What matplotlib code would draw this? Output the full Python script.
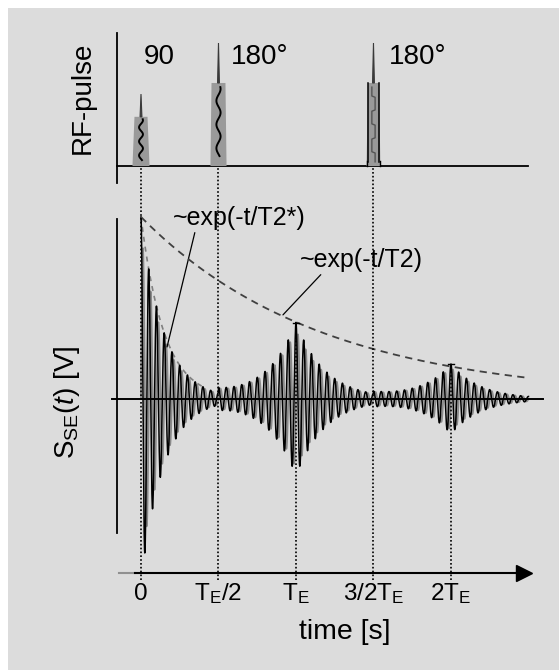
import numpy as np
import matplotlib
matplotlib.use('Agg')
import matplotlib.pyplot as plt
from matplotlib.patches import Rectangle

plt.rcParams['font.family'] = ['Liberation Sans', 'DejaVu Sans']
plt.rcParams['mathtext.fontset'] = 'custom'
plt.rcParams['mathtext.rm'] = 'Liberation Sans'
plt.rcParams['mathtext.it'] = 'Liberation Sans:italic'

# time in units of T_E
pulse_times = [0.0, 0.5, 1.5]
pulse_peaks = [0.585, 1.0, 1.0]
pulse_shoulders = [0.40, 0.675, 0.675]
pulse_labels = ['90', '180°', '180°']

echo_times = [0.0, 1.0, 2.0]
echo_peaks = [1.0, 0.42, 0.19]
echo_tau = [0.148, 0.19, 0.19]     # ~T2*
echo_start = [0.0, 0.5, 1.5]       # echo can only build up after the pulse
T2 = 1.16
carrier = 20.0                     # cycles per T_E
t_end = 2.5

tick_pos = [0.0, 0.5, 1.0, 1.5, 2.0]
tick_labels = ['0', r'T$_\mathregular{E}$/2', r'T$_\mathregular{E}$',
               r'3/2T$_\mathregular{E}$', r'2T$_\mathregular{E}$']

W, H = 559, 670
fig = plt.figure(figsize=(W / 100, H / 100), dpi=100, facecolor='white')
fig.patches.append(Rectangle((8 / W, 0), 1 - 8 / W, 1 - 8 / H, transform=fig.transFigure,
                             facecolor='#dcdcdc', edgecolor='none', zorder=-10))

xlim = (-0.2645, 2.697)
rf = fig.add_axes([100 / W, 1 - 190 / H, 459 / W, 170 / H])
sig = fig.add_axes([100 / W, 1 - 640 / H, 459 / W, 450 / H])
for ax in (rf, sig):
    ax.set_xlim(*xlim)
    ax.patch.set_alpha(0)
    for s in ax.spines.values():
        s.set_visible(False)
    ax.set_yticks([])
    ax.set_xticks([])
rf.set_ylim(-0.195, 1.187)
sig.set_ylim(-1.324, 1.148)

# ---- RF pulses ----
rf.plot([-0.155, -0.155], [-0.138, 1.081], color='black', lw=1.3, clip_on=False)
rf.plot([-0.155, 2.497], [0, 0], color='black', lw=1.3)
half_base = [0.055, 0.052, 0.045]
half_top = [0.042, 0.045, 0.035]
for i, t0 in enumerate(pulse_times):
    sh = pulse_shoulders[i]
    pk = pulse_peaks[i]
    xs = t0 + np.array([-half_base[i], -half_top[i], half_top[i], half_base[i]])
    rf.fill(xs, [0, sh, sh, 0], color='#9a9a9a', lw=0, zorder=2)
    if i == 2:
        rf.plot([t0 - half_top[i]] * 2, [0.03, sh], color='black', lw=1.1, zorder=3)
        rf.plot([t0 + half_top[i]] * 2, [0.03, sh], color='black', lw=1.1, zorder=3)
        rf.plot([t0 - half_base[i], t0 - half_base[i]], [0, 0.04], color='black', lw=1.0)
        rf.plot([t0 + half_base[i], t0 + half_base[i]], [0, 0.04], color='black', lw=1.0)
        yy = np.linspace(0.05 * sh, 0.95 * sh, 60)
        rf.plot(t0 + 0.3 * half_top[i] * np.sign(np.sin(yy / sh * 6 * np.pi)), yy,
                color='#555555', lw=1.0, zorder=3)
    else:
        yy = np.linspace(0.12 * sh, 0.95 * sh, 60)
        rf.plot(t0 + 0.3 * half_top[i] * np.sin(yy / sh * 7 * np.pi), yy,
                color='black', lw=1.4, zorder=3)
    rf.fill([t0 - 0.006, t0, t0 + 0.006], [sh, pk, sh], color='#3a3a3a', lw=0.8,
            edgecolor='#3a3a3a', zorder=3)
rf.text(0.019, 0.886, pulse_labels[0], fontsize=20, va='center', ha='left')
rf.text(0.58, 0.886, pulse_labels[1], fontsize=20, va='center', ha='left')
rf.text(1.60, 0.886, pulse_labels[2], fontsize=20, va='center', ha='left')
fig.text(83 / W, 1 - 98 / H, 'RF-pulse', rotation=90, fontsize=20, ha='center', va='center')

# ---- signal ----
t = np.linspace(0, t_end, 6000)
s_cos = np.zeros_like(t)
s_sin = np.zeros_like(t)
for te, a, tau, ts in zip(echo_times, echo_peaks, echo_tau, echo_start):
    env = a * np.exp(-np.abs(t - te) / tau) * (t >= ts)
    s_cos += env * np.cos(2 * np.pi * carrier * (t - te))
    s_sin += env * np.sin(2 * np.pi * carrier * (t - te))

sig.plot([-0.155, -0.155], [-0.736, 0.989], color='black', lw=1.3)
sig.plot([-0.187, 2.594], [0, 0], color='black', lw=1.4, zorder=4)
sig.plot(t, 0.9 * s_sin, color='#8a8a8a', lw=1.3, zorder=2)
sig.plot(t, s_cos, color='black', lw=1.1, zorder=3)

# envelopes
tt = np.linspace(0, t_end, 300)
sig.plot(tt, np.exp(-tt / T2), color='#404040', lw=1.3, ls=(0, (4, 3)), zorder=5)
tf = np.linspace(0, 0.4, 80)
sig.plot(tf, echo_peaks[0] * np.exp(-tf / echo_tau[0]), color='#808080', lw=1.2,
         ls=(0, (3, 3)), zorder=1)

# dotted timing lines
for tp in pulse_times:
    sig.plot([tp, tp], [-0.995, 1.280], color='black', lw=1.2, ls=(0, (1, 1.3)),
             clip_on=False, zorder=6)
for te, a in zip(echo_times[1:], echo_peaks[1:]):
    sig.plot([te, te], [-0.995, a], color='black', lw=1.2, ls=(0, (1, 1.3)), zorder=6)
    sig.plot([te - 0.02, te + 0.02], [a, a], color='black', lw=1.0, zorder=6)

# time axis with arrow
y_ax = -0.956
sig.plot([-0.142, -0.04], [y_ax, y_ax], color='#909090', lw=1.5)
sig.plot([-0.04, 2.44], [y_ax, y_ax], color='black', lw=1.5)
sig.plot([2.468], [y_ax], marker='>', markersize=11, color='black')
for p, lab in zip(tick_pos, tick_labels):
    sig.text(p, -1.07, lab, fontsize=17.5, ha='center', va='center')
sig.text(1.316, -1.28, 'time [s]', fontsize=20.5, ha='center', va='center')
fig.text(67 / W, 1 - 402 / H, r'S$_\mathregular{SE}$($\mathit{t}$) [V]', rotation=90,
         fontsize=20, ha='center', va='center')

# annotations
sig.annotate('~exp(-t/T2*)', xy=(0.168, 0.286), xytext=(0.206, 0.995), fontsize=18,
             ha='left', va='center',
             arrowprops=dict(arrowstyle='-', color='black', lw=0.9, shrinkA=0, shrinkB=0,
                             relpos=(0.17, 0.0)))
sig.annotate('~exp(-t/T2)', xy=(0.916, 0.462), xytext=(1.026, 0.764), fontsize=18,
             ha='left', va='center',
             arrowprops=dict(arrowstyle='-', color='black', lw=0.9, shrinkA=0, shrinkB=0,
                             relpos=(0.19, 0.0)))

fig.savefig('out.png', dpi=100)
